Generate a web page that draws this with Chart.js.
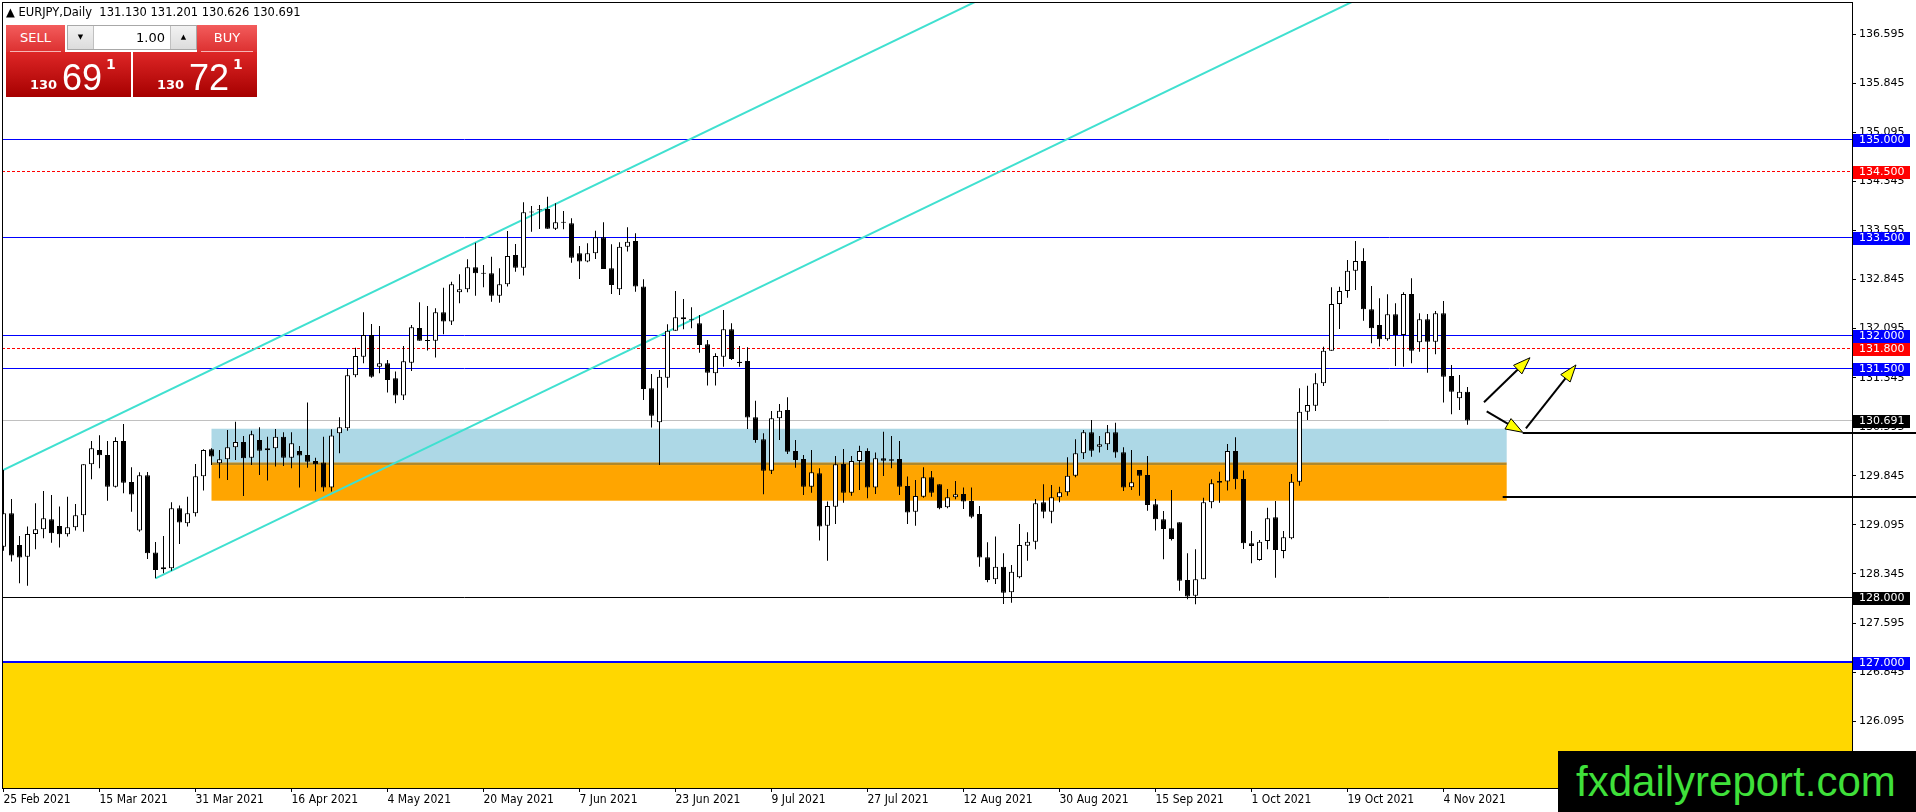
<!DOCTYPE html>
<html>
<head>
<meta charset="utf-8">
<title>EURJPY Daily</title>
<script src="https://cdn.jsdelivr.net/npm/chart.js@4.4.1/dist/chart.umd.min.js"></script>
<style>
  html, body { margin: 0; padding: 0; background: #fff; }
  #wrap { position: relative; width: 1916px; height: 812px; overflow: hidden; }
  #chart { position: absolute; left: 0; top: 0; }
  .hdr { position: absolute; left: 6px; top: 5px; font: 11.5px 'DejaVu Sans', sans-serif; white-space: pre; color: #000; }
  .btn { position: absolute; top: 25px; height: 27px; background: linear-gradient(#f35c5c, #dc3030); color: #fff;
         font: 13px 'DejaVu Sans', sans-serif; text-align: center; line-height: 26px; }
  .btn::after { content: ''; position: absolute; left: 4px; right: 4px; bottom: 0; border-bottom: 1px solid #f6b4b4; }
  #sell { left: 6px; width: 59px; }
  #buy { left: 197px; width: 60px; }
  #spin { position: absolute; left: 67px; top: 25px; width: 128px; height: 23px; border: 1px solid #a8a8a8; background: #fff; }
  #spin .dn, #spin .up { position: absolute; top: 0; width: 25px; height: 23px; background: linear-gradient(#f2f2f2, #dcdcdc);
         font: 7px 'DejaVu Sans', sans-serif; line-height: 23px; text-align: center; color: #000; }
  #spin .dn { left: 0; border-right: 1px solid #c0c0c0; }
  #spin .up { right: 0; border-left: 1px solid #c0c0c0; }
  #spin .val { position: absolute; right: 31px; top: 0; font: 13px 'DejaVu Sans', sans-serif; line-height: 23px; color: #000; }
  .price { position: absolute; top: 52px; height: 45px; background: linear-gradient(#de2626, #a60000); color: #fff; }
  #sellp { left: 6px; width: 125px; }
  #buyp { left: 133px; width: 124px; }
  .price .sm { position: absolute; left: 24px; top: 26px; font: bold 13px 'DejaVu Sans', sans-serif; line-height: 13px; }
  .price .bg { position: absolute; left: 56px; top: 8px; font: 36px 'Liberation Sans', sans-serif; line-height: 36px; }
  .price .sp { position: absolute; left: 100px; top: 5px; font: bold 14px 'DejaVu Sans', sans-serif; line-height: 14px; }
  #mark { position: absolute; left: 1558px; top: 751px; width: 358px; height: 61px; background: #000; color: #3fe03a;
          font: 42px 'Liberation Sans', sans-serif; line-height: 61px; padding-left: 18px; box-sizing: border-box; }
</style>
</head>
<body>
<div id="wrap">
  <canvas id="chart" width="1916" height="812"></canvas>
  <div class="hdr">▲ EURJPY,Daily  131.130 131.201 130.626 130.691</div>
  <div class="btn" id="sell">SELL</div>
  <div id="spin"><div class="dn">▼</div><div class="val">1.00</div><div class="up">▲</div></div>
  <div class="btn" id="buy">BUY</div>
  <div class="price" id="sellp"><span class="sm">130</span><span class="bg">69</span><span class="sp">1</span></div>
  <div class="price" id="buyp"><span class="sm">130</span><span class="bg">72</span><span class="sp">1</span></div>
  <div id="mark">fxdailyreport.com</div>
</div>
<script>
// daily bars, first bar = 25 Feb 2021, one bar per weekday
const opens = [
  128.763, 129.273, 128.789, 128.610, 128.957, 129.028, 129.181, 129.079, 128.952, 129.059,
  129.242, 130.021, 130.241, 130.164, 129.680, 130.378, 129.751, 129.008, 129.853, 128.672,
  128.417, 128.432, 129.349, 129.120, 129.273, 129.838, 130.251, 130.037, 130.098, 130.281,
  130.363, 130.123, 130.393, 130.235, 130.266, 130.444, 130.123, 130.225, 130.164, 130.072,
  130.047, 129.665, 130.495, 130.572, 131.382, 131.667, 131.998, 131.514, 131.565, 131.336,
  131.071, 131.575, 132.105, 131.911, 131.911, 132.344, 132.202, 132.650, 132.696, 133.032,
  132.941, 132.941, 132.599, 132.772, 133.221, 133.027, 133.873, 133.908, 133.924, 133.623,
  133.720, 133.705, 133.246, 133.119, 133.246, 133.491, 133.017, 132.696, 133.348, 133.434,
  132.737, 131.183, 130.663, 131.346, 132.064, 132.268, 132.227, 132.176, 131.855, 131.412,
  131.667, 132.085, 131.590, 131.600, 130.739, 130.403, 129.924, 130.724, 130.852, 130.225,
  130.103, 129.680, 129.884, 129.084, 129.374, 130.026, 129.588, 130.072, 130.225, 129.665,
  130.113, 130.098, 130.103, 129.690, 129.298, 129.527, 129.823, 129.716, 129.364, 129.517,
  129.568, 129.461, 129.262, 128.600, 128.264, 128.457, 128.065, 128.295, 128.778, 128.839,
  129.440, 129.298, 129.517, 129.593, 129.848, 130.189, 130.510, 130.291, 130.327, 130.510,
  130.205, 129.670, 129.935, 129.858, 129.410, 129.181, 129.043, 129.135, 128.254, 128.014,
  128.264, 129.440, 129.767, 129.757, 130.225, 129.797, 128.814, 128.559, 128.850, 129.211,
  128.697, 128.890, 129.756, 130.826, 130.918, 131.259, 131.758, 132.472, 132.670, 132.981,
  133.129, 132.390, 132.151, 131.932, 132.314, 131.998, 132.624, 131.886, 132.237, 131.896,
  132.329, 131.371, 131.030, 131.130
];
const highs = [
  129.935, 129.492, 128.926, 129.069, 129.425, 129.614, 129.553, 129.375, 129.527, 129.415,
  130.021, 130.378, 130.465, 130.378, 130.434, 130.638, 129.976, 129.899, 129.904, 128.835,
  128.926, 129.441, 129.390, 129.527, 130.027, 130.251, 130.266, 130.241, 130.546, 130.673,
  130.454, 130.536, 130.587, 130.444, 130.561, 130.510, 130.510, 130.302, 130.964, 130.123,
  130.444, 130.556, 130.740, 131.478, 131.804, 132.344, 132.166, 132.136, 131.616, 131.438,
  131.830, 132.151, 132.497, 132.441, 132.406, 132.721, 132.813, 132.925, 133.154, 133.409,
  133.068, 133.195, 133.017, 133.587, 133.389, 134.026, 133.969, 133.985, 134.112, 134.010,
  133.893, 133.781, 133.358, 133.399, 133.592, 133.720, 133.384, 133.414, 133.643, 133.552,
  132.849, 131.402, 131.463, 132.161, 132.670, 132.548, 132.421, 132.304, 131.922, 131.718,
  132.380, 132.176, 131.830, 131.810, 130.994, 130.495, 130.836, 130.943, 131.045, 130.393,
  130.164, 130.240, 129.960, 129.451, 130.148, 130.256, 130.148, 130.306, 130.266, 130.200,
  130.520, 130.454, 130.378, 129.833, 129.782, 129.975, 129.919, 129.716, 129.644, 129.767,
  129.665, 129.665, 129.384, 128.829, 128.916, 128.661, 128.483, 129.109, 128.982, 129.491,
  129.716, 129.706, 129.680, 130.128, 130.403, 130.546, 130.699, 130.454, 130.622, 130.658,
  130.281, 130.240, 129.935, 130.149, 129.491, 129.308, 129.629, 129.135, 128.661, 128.722,
  129.512, 129.792, 129.909, 130.332, 130.434, 129.925, 129.002, 128.865, 129.359, 129.461,
  129.002, 129.873, 131.183, 131.223, 131.412, 131.819, 132.726, 132.736, 133.144, 133.434,
  133.322, 132.747, 132.558, 132.619, 132.482, 132.650, 132.864, 132.329, 132.319, 132.365,
  132.517, 131.539, 131.387, 131.201
];
const lows = [
  128.700, 128.534, 128.203, 128.167, 128.722, 128.891, 128.824, 128.748, 128.916, 129.008,
  128.991, 129.792, 129.960, 129.466, 129.665, 129.578, 129.298, 128.990, 128.575, 128.279,
  128.356, 128.396, 128.804, 129.069, 129.222, 129.619, 130.011, 129.808, 129.782, 130.088,
  129.538, 130.011, 129.858, 129.772, 129.986, 129.996, 129.960, 129.665, 129.970, 129.604,
  129.604, 129.604, 130.189, 130.536, 131.351, 131.565, 131.346, 131.412, 131.117, 130.954,
  131.005, 131.448, 131.911, 131.759, 131.652, 132.008, 132.151, 132.482, 132.650, 132.599,
  132.727, 132.507, 132.492, 132.737, 132.966, 132.905, 133.577, 133.618, 133.623, 133.603,
  133.613, 133.103, 132.854, 133.108, 133.159, 133.007, 132.625, 132.609, 133.272, 132.660,
  131.005, 130.582, 130.011, 131.193, 132.064, 132.085, 132.100, 131.728, 131.224, 131.224,
  131.514, 131.616, 131.514, 130.562, 130.352, 129.563, 129.873, 130.393, 130.179, 129.970,
  129.553, 129.588, 128.855, 128.549, 129.109, 129.435, 129.542, 129.629, 129.502, 129.568,
  129.843, 129.960, 129.553, 129.109, 129.084, 129.512, 129.527, 129.333, 129.349, 129.486,
  129.339, 129.196, 128.457, 128.218, 128.192, 127.887, 127.907, 128.279, 128.549, 128.722,
  129.196, 129.120, 129.440, 129.542, 129.823, 130.103, 130.138, 130.200, 130.240, 130.123,
  129.614, 129.629, 129.542, 129.313, 129.008, 128.569, 128.855, 128.090, 127.958, 127.882,
  128.264, 129.349, 129.435, 129.619, 129.639, 128.727, 128.508, 128.549, 128.722, 128.289,
  128.585, 128.875, 129.695, 130.699, 130.836, 131.218, 131.758, 132.090, 132.568, 132.686,
  132.217, 131.870, 131.820, 131.911, 131.524, 131.514, 131.565, 131.743, 131.422, 131.702,
  130.964, 130.785, 130.851, 130.626
];
const closes = [
  129.273, 128.626, 128.595, 128.957, 129.028, 129.196, 128.967, 128.952, 129.059, 129.242,
  130.021, 130.266, 130.159, 129.680, 130.378, 129.741, 129.558, 129.853, 128.661, 128.407,
  128.448, 129.349, 129.130, 129.273, 129.838, 130.241, 130.139, 130.098, 130.281, 130.363,
  130.113, 130.480, 130.230, 130.266, 130.444, 130.123, 130.342, 130.154, 130.062, 130.021,
  129.665, 130.460, 130.587, 131.382, 131.677, 131.998, 131.361, 131.565, 131.310, 131.071,
  131.596, 132.115, 131.911, 131.905, 132.344, 132.202, 132.772, 132.696, 133.032, 132.941,
  132.935, 132.599, 132.772, 133.205, 133.027, 133.873, 133.868, 133.903, 133.623, 133.720,
  133.715, 133.180, 133.119, 133.246, 133.491, 133.007, 132.762, 133.348, 133.424, 132.737,
  131.173, 130.765, 131.361, 132.064, 132.268, 132.237, 132.222, 131.845, 131.422, 131.677,
  132.085, 131.631, 131.570, 130.735, 130.393, 129.924, 130.724, 130.841, 130.215, 130.087,
  129.680, 129.899, 129.069, 129.384, 130.021, 129.588, 130.072, 130.225, 129.665, 130.113,
  130.077, 130.077, 129.680, 129.283, 129.537, 129.823, 129.588, 129.349, 129.517, 129.563,
  129.451, 129.221, 128.595, 128.254, 128.457, 128.060, 128.381, 128.788, 128.839, 129.425,
  129.298, 129.517, 129.593, 129.848, 130.189, 130.510, 130.230, 130.327, 130.510, 130.200,
  129.665, 129.746, 129.848, 129.400, 129.181, 129.033, 128.880, 128.243, 128.000, 128.264,
  129.440, 129.731, 129.741, 130.225, 129.792, 128.814, 128.773, 128.839, 129.196, 128.712,
  128.906, 129.756, 130.826, 130.928, 131.259, 131.758, 132.472, 132.670, 132.981, 133.129,
  132.390, 132.100, 131.932, 132.314, 131.998, 132.624, 131.758, 132.237, 131.896, 132.329,
  131.361, 131.132, 131.132, 130.691
];

// date labels every 12 bars
const tickStep = 12;
const dateTicks = ['25 Feb 2021', '15 Mar 2021', '31 Mar 2021', '16 Apr 2021', '4 May 2021', '20 May 2021',
  '7 Jun 2021', '23 Jun 2021', '9 Jul 2021', '27 Jul 2021', '12 Aug 2021', '30 Aug 2021',
  '15 Sep 2021', '1 Oct 2021', '19 Oct 2021', '4 Nov 2021'];
const priceTicks = [126.095, 126.845, 127.595, 128.345, 129.095, 129.845, 130.595, 131.345,
  132.095, 132.845, 133.595, 134.345, 135.095, 135.845, 136.595];

// levels and drawings (bar index, price)
const blueLevels = [135.0, 133.5, 132.0, 131.5];
const redLevels = [134.5, 131.8];
const supportLevel = 128.0;
const zoneLevel = 127.0;
const lastPrice = 130.691;
const zoneBars = [26, 187.9];
const blueZone = [130.565, 130.05];
const orangeZone = [130.01, 129.465];
const channelUpper = [[-1, 129.876], [130, 137.592]];
const channelLower = [[19, 128.279], [200, 138.940]];
const arrows = [
  [185.06, 130.97, 190.81, 131.65],
  [185.40, 130.83, 189.90, 130.51],
  [190.30, 130.57, 196.56, 131.54]
];
const rightLines = [[189.9, 130.50], [187.4, 129.527]];

const bodyData = opens.map((o, i) => ({ x: i, y: [o, closes[i]] }));
const wickData = lows.map((l, i) => ({ x: i, y: [l, highs[i]] }));
const bodyColors = opens.map((o, i) => closes[i] >= o ? '#ffffff' : '#000000');

Chart.defaults.font.family = "'DejaVu Sans', sans-serif";
Chart.defaults.color = '#000';

function hline(ctx, x1, x2, yPix, color, width, dash) {
  ctx.save();
  ctx.strokeStyle = color;
  ctx.lineWidth = width;
  ctx.setLineDash(dash || []);
  const yy = width % 2 ? Math.round(yPix) + 0.5 : Math.round(yPix);
  ctx.beginPath();
  ctx.moveTo(x1, yy);
  ctx.lineTo(x2, yy);
  ctx.stroke();
  ctx.restore();
}

const drawings = {
  id: 'drawings',
  beforeDatasetsDraw(chart) {
    const { ctx, chartArea: a, scales: { x, y } } = chart;
    ctx.save();
    ctx.beginPath();
    ctx.rect(a.left, a.top, a.right - a.left, a.bottom - a.top);
    ctx.clip();

    // yellow area under 127
    ctx.fillStyle = '#FFD700';
    ctx.fillRect(a.left, y.getPixelForValue(zoneLevel), a.right - a.left, a.bottom - y.getPixelForValue(zoneLevel));

    // zones
    const zx1 = x.getPixelForValue(zoneBars[0]);
    const zx2 = x.getPixelForValue(zoneBars[1]);
    ctx.fillStyle = '#ADD8E6';
    ctx.fillRect(zx1, y.getPixelForValue(blueZone[0]), zx2 - zx1, y.getPixelForValue(blueZone[1]) - y.getPixelForValue(blueZone[0]));
    ctx.fillStyle = '#B0882A';
    ctx.fillRect(zx1, y.getPixelForValue(blueZone[1]), zx2 - zx1, y.getPixelForValue(orangeZone[0]) - y.getPixelForValue(blueZone[1]));
    ctx.fillStyle = '#FFA500';
    ctx.fillRect(zx1, y.getPixelForValue(orangeZone[0]), zx2 - zx1, y.getPixelForValue(orangeZone[1]) - y.getPixelForValue(orangeZone[0]));

    // horizontal levels
    blueLevels.forEach(v => hline(ctx, a.left, a.right, y.getPixelForValue(v), '#0000FF', 1));
    redLevels.forEach(v => hline(ctx, a.left, a.right, y.getPixelForValue(v), '#FF0000', 1, [3, 2]));
    hline(ctx, a.left, a.right, y.getPixelForValue(lastPrice), '#C0C0C0', 1);
    hline(ctx, a.left, a.right, y.getPixelForValue(supportLevel), '#000000', 1);
    hline(ctx, a.left, a.right, y.getPixelForValue(zoneLevel), '#0000FF', 2);

    // channel
    ctx.strokeStyle = '#40E0D0';
    ctx.lineWidth = 2;
    [channelUpper, channelLower].forEach(ln => {
      ctx.beginPath();
      ctx.moveTo(x.getPixelForValue(ln[0][0]), y.getPixelForValue(ln[0][1]));
      ctx.lineTo(x.getPixelForValue(ln[1][0]), y.getPixelForValue(ln[1][1]));
      ctx.stroke();
    });
    ctx.restore();
  },
  afterDatasetsDraw(chart) {
    const { ctx, scales: { x, y } } = chart;
    ctx.save();
    arrows.forEach(ar => {
      const x1 = x.getPixelForValue(ar[0]), y1 = y.getPixelForValue(ar[1]);
      const x2 = x.getPixelForValue(ar[2]), y2 = y.getPixelForValue(ar[3]);
      const len = Math.hypot(x2 - x1, y2 - y1);
      const ux = (x2 - x1) / len, uy = (y2 - y1) / len;
      const hl = 17, hw = 6;
      const bx = x2 - ux * hl, by = y2 - uy * hl;
      ctx.strokeStyle = '#000';
      ctx.lineWidth = 2;
      ctx.beginPath();
      ctx.moveTo(x1, y1);
      ctx.lineTo(bx, by);
      ctx.stroke();
      ctx.beginPath();
      ctx.moveTo(x2, y2);
      ctx.lineTo(bx - uy * hw, by + ux * hw);
      ctx.lineTo(bx + uy * hw, by - ux * hw);
      ctx.closePath();
      ctx.fillStyle = '#FFFF00';
      ctx.fill();
      ctx.lineWidth = 1;
      ctx.stroke();
    });
    ctx.restore();
  },
  afterDraw(chart) {
    const { ctx, chartArea: a, scales: { y, x } } = chart;
    ctx.save();
    // frame
    ctx.strokeStyle = '#000';
    ctx.lineWidth = 1;
    ctx.strokeRect(a.left + 0.5, a.top + 0.5, a.right - a.left, a.bottom - a.top);

    // price tags on the axis
    const tag = (v, bg) => {
      const yy = Math.round(y.getPixelForValue(v));
      ctx.fillStyle = bg;
      ctx.fillRect(a.right + 1, yy - 5, 57, 13);
      ctx.fillStyle = '#fff';
      ctx.font = "11px 'DejaVu Sans', sans-serif";
      ctx.textBaseline = 'middle';
      ctx.textAlign = 'left';
      ctx.fillText(v.toFixed(3), a.right + 7, yy + 1.5);
    };
    blueLevels.forEach(v => tag(v, '#0000FF'));
    redLevels.forEach(v => tag(v, '#FF0000'));
    tag(lastPrice, '#000000');
    tag(supportLevel, '#000000');
    tag(zoneLevel, '#0000FF');

    // target lines on the right run over the axis
    rightLines.forEach(r => hline(ctx, x.getPixelForValue(r[0]), chart.width, y.getPixelForValue(r[1]), '#000', 2));
    ctx.restore();
  }
};

new Chart(document.getElementById('chart'), {
  type: 'bar',
  data: {
    datasets: [
      {
        label: 'body',
        data: bodyData,
        backgroundColor: bodyColors,
        borderColor: '#000',
        borderWidth: 1,
        borderSkipped: false,
        barThickness: 5,
        minBarLength: 1,
        grouped: false,
        inflateAmount: 0,
        order: 0
      },
      {
        label: 'wick',
        data: wickData,
        backgroundColor: '#000',
        borderWidth: 0,
        barThickness: 1,
        grouped: false,
        inflateAmount: 0,
        order: 1
      }
    ]
  },
  options: {
    responsive: false,
    animation: false,
    devicePixelRatio: 1,
    layout: { padding: { left: 2, top: 2, right: 0, bottom: 0 } },
    plugins: { legend: { display: false }, tooltip: { enabled: false } },
    scales: {
      x: {
        type: 'linear',
        min: -0.1875,
        max: 231.0625,
        offset: false,
        grid: { offset: false, drawOnChartArea: false, drawTicks: true, tickLength: 4, color: '#000' },
        border: { display: false },
        afterBuildTicks: s => { s.ticks = dateTicks.map((t, k) => ({ value: k * tickStep })); },
        afterFit: s => { s.height = 24; s.paddingLeft = 0; s.paddingRight = 0; },
        ticks: {
          autoSkip: false,
          maxRotation: 0,
          align: 'start',
          padding: 1,
          color: '#000',
          font: { family: "'DejaVu Sans Condensed', 'DejaVu Sans', sans-serif", size: 12 },
          callback: v => dateTicks[Math.round(v / tickStep)] || ''
        }
      },
      y: {
        position: 'right',
        min: 125.074,
        max: 137.087,
        beginAtZero: false,
        grid: { drawOnChartArea: false, drawTicks: true, tickLength: 4, color: '#000' },
        border: { display: false },
        afterBuildTicks: s => { s.ticks = priceTicks.map(v => ({ value: v })); },
        afterFit: s => { s.width = 64; s.paddingTop = 0; s.paddingBottom = 0; },
        ticks: {
          autoSkip: false,
          padding: 3,
          color: '#000',
          font: { size: 11 },
          callback: v => v.toFixed(3)
        }
      }
    }
  },
  plugins: [drawings]
});
</script>
</body>
</html>
